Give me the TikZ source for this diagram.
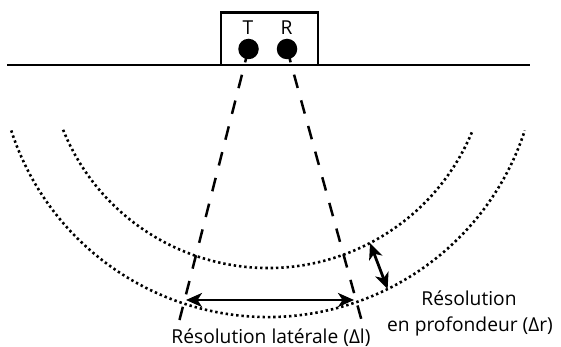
\documentclass[tikz,border=0pt]{standalone}
\usepackage{fontspec}
\setmainfont{Open Sans}
\usetikzlibrary{arrows.meta}
\begin{document}
\begin{tikzpicture}[x=1pt,y=1pt,
  lab/.style={inner sep=0pt, anchor=base, font=\fontsize{19.2pt}{22pt}\selectfont},
  thick line/.style={line width=2.8pt},
  beam/.style={line width=2.5pt, dash pattern=on 13.8pt off 12.8pt},
  dotarc/.style={line width=2.6pt, dash pattern=on 2.4pt off 2.9pt},
  dblarrow/.style={line width=2.8pt, {Stealth[length=16pt,width=14pt,inset=4.5pt]}-{Stealth[length=16pt,width=14pt,inset=4.5pt]}},
  sensor/.style={circle, fill=black, inner sep=0pt, minimum size=20.5pt}
]
\useasboundingbox (0,0) rectangle (561,-347);
% centre of the wavefronts
\coordinate (C) at (268,-47);
% ground line
\coordinate (gl) at (7,-65);
\coordinate (gr) at (530,-65);
\draw[thick line] (gl) -- (gr);
% box
\node[draw, line width=2.5pt, minimum width=97pt, minimum height=52.3pt, inner sep=0pt] (box) at (269.5,-38.8) {};
% beam end points
\coordinate (bl) at (179.5,-320);
\coordinate (br) at (361.5,-320);
\coordinate (tpos) at (248.5,-49);
\coordinate (rpos) at (287,-49);
\draw[beam] (tpos) -- (bl);
\draw[beam] (rpos) -- (br);
% sensors
\node[sensor] (tc) at (tpos) {};
\node[sensor] (rc) at (rpos) {};
\node[lab] (tl) at (248,-35) {T};
\node[lab] (rl) at (286.5,-35) {R};
% wavefronts
\draw[dotarc] ([shift={(202:221pt)}]C) arc[start angle=202, end angle=338, radius=221pt];
\draw[dotarc] ([shift={(198:270pt)}]C) arc[start angle=198, end angle=342, radius=270pt];
% depth resolution arrow
\coordinate (da) at ([shift={(-62.5:221pt)}]C);
\coordinate (db) at ([shift={(-63.7:270pt)}]C);
\draw[dblarrow] (da) -- (db);
% lateral resolution arrow
\coordinate (la) at (186,-300);
\coordinate (lb) at (354,-300);
\draw[dblarrow] (la) -- (lb);
% labels
\node[lab] (lat) at (271,-343) {Résolution latérale (Δl)};
\node[lab] (dep1) at (469,-305) {Résolution};
\node[lab] (dep2) at (470,-331) {en profondeur (Δr)};
\end{tikzpicture}
\end{document}
